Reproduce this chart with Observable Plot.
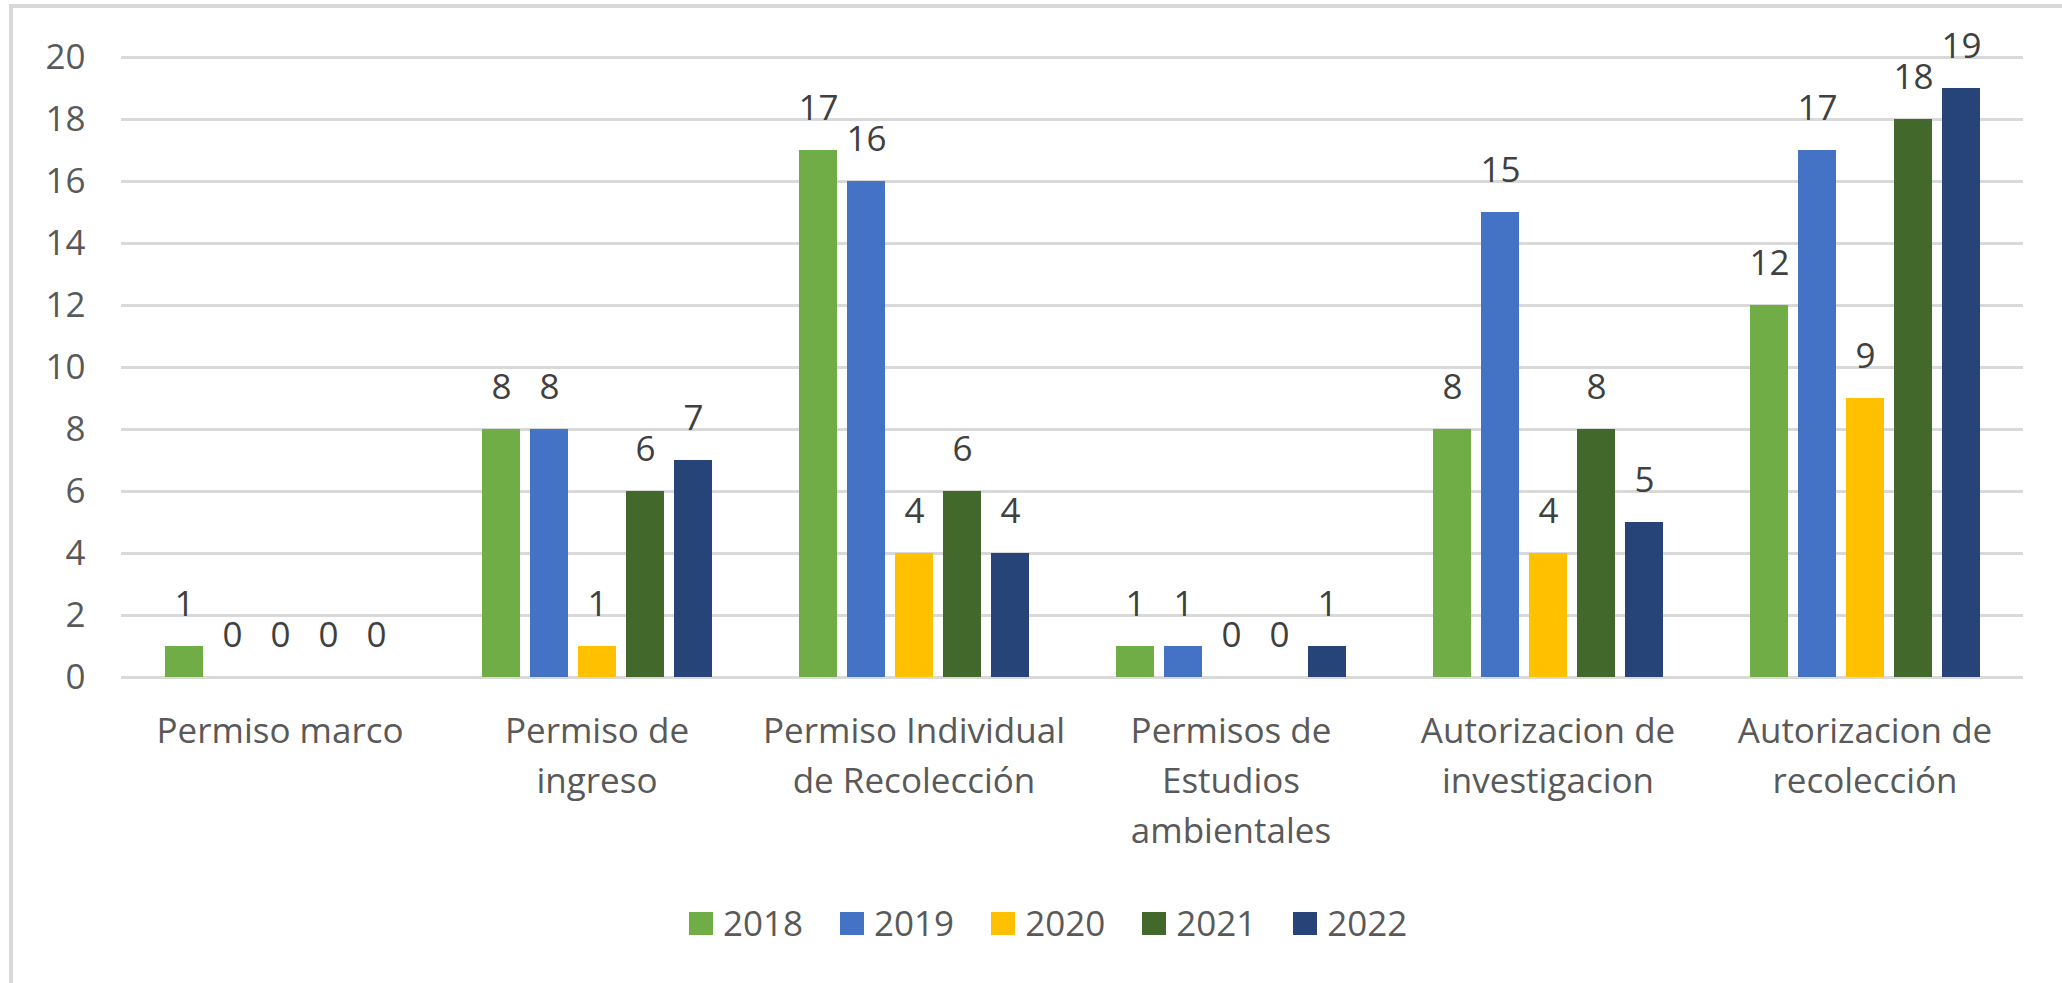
<!DOCTYPE html>
<html>
<head>
<meta charset="utf-8">
<script src="https://cdn.jsdelivr.net/npm/d3@7"></script>
<script src="https://cdn.jsdelivr.net/npm/@observablehq/plot@0.6"></script>
<style>
  html, body { margin: 0; padding: 0; background: #fff; overflow: hidden; width: 2062px; height: 983px; }
  #frame { position: absolute; left: 9px; top: 4px; width: 2200px; height: 1200px; border: 4px solid #d9d9d9; box-sizing: border-box; }
  #chart { position: absolute; left: 0; top: 0; }
  #legend { position: absolute; left: 689px; top: 900px; display: flex; align-items: center; font-family: "Open Sans", sans-serif; font-size: 35px; color: #595959; line-height: 46px; }
  .item { display: flex; align-items: center; margin-right: 37px; }
  .sw { width: 24px; height: 23px; margin-right: 10px; }
</style>
</head>
<body>
<div id="frame"></div>
<div id="chart"></div>
<div id="legend"></div>
<script>
const categories = ["Permiso marco", "Permiso de ingreso", "Permiso Individual de Recolección", "Permisos de Estudios ambientales", "Autorizacion de investigacion", "Autorizacion de recolección"];
const categoryLabels = ["Permiso marco", "Permiso de\ningreso", "Permiso Individual\nde Recolección", "Permisos de\nEstudios\nambientales", "Autorizacion de\ninvestigacion", "Autorizacion de\nrecolección"];
const years = ["2018", "2019", "2020", "2021", "2022"];
const colors = ["#70AD47", "#4472C4", "#FFC000", "#43682B", "#264478"];
const v2018 = [1, 8, 17, 1, 8, 12];
const v2019 = [0, 8, 16, 1, 15, 17];
const v2020 = [0, 1, 4, 0, 4, 9];
const v2021 = [0, 6, 6, 0, 8, 18];
const v2022 = [0, 7, 4, 1, 5, 19];
const yTicks = [0, 2, 4, 6, 8, 10, 12, 14, 16, 18, 20];

const series = [v2018, v2019, v2020, v2021, v2022];
const data = [];
categories.forEach((c, i) => years.forEach((y, j) => data.push({cat: c, year: y, value: series[j][i]})));
const labelOf = new Map(categories.map((c, i) => [c, categoryLabels[i]]));

const FS = 35;
const plot = Plot.plot({
  width: 2062,
  height: 880,
  marginLeft: 119,
  marginRight: 38,
  marginTop: 57,
  marginBottom: 203,
  style: {fontFamily: "Open Sans, sans-serif", fontSize: FS + "px", background: "transparent"},
  fx: {domain: categories, padding: 0},
  x: {domain: years, paddingInner: 0.215, paddingOuter: 0.88, axis: null},
  y: {domain: [0, 20]},
  color: {domain: years, range: colors},
  marks: [
    Plot.ruleY(yTicks, {stroke: "#d9d9d9", strokeWidth: 3}),
    Plot.axisY({ticks: yTicks, tickSize: 0, tickPadding: 36, label: null, fontSize: FS, color: "#595959"}),
    Plot.axisFx({anchor: "bottom", tickSize: 0, tickPadding: 30, label: null, fontSize: FS, lineHeight: 50 / FS, color: "#595959", tickFormat: d => labelOf.get(d)}),
    Plot.barY(data, {fx: "cat", x: "year", y: "value", fill: "year"}),
    Plot.text(data, {fx: "cat", x: "year", y: "value", text: d => String(d.value), lineAnchor: "bottom", dy: -31, fill: "#404040", fontSize: FS})
  ]
});
document.getElementById("chart").appendChild(plot);

const legend = document.getElementById("legend");
years.forEach((y, j) => {
  const item = document.createElement("div");
  item.className = "item";
  const sw = document.createElement("span");
  sw.className = "sw";
  sw.style.background = colors[j];
  const t = document.createElement("span");
  t.textContent = y;
  item.appendChild(sw);
  item.appendChild(t);
  legend.appendChild(item);
});
</script>
</body>
</html>
